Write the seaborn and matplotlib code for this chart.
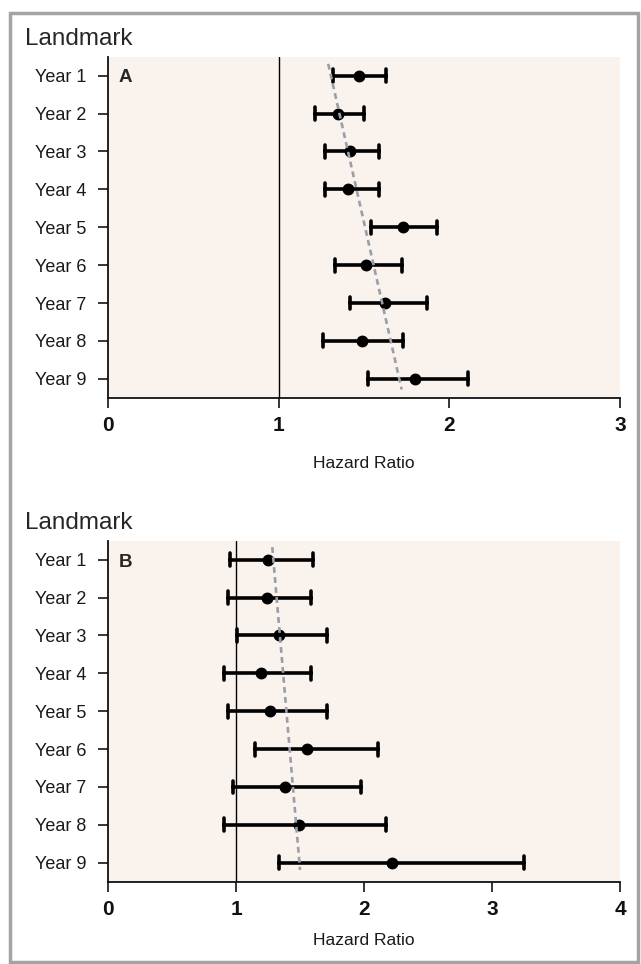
import pandas as pd
import numpy as np
import matplotlib
matplotlib.use("Agg")
import matplotlib.pyplot as plt
from matplotlib.patches import Rectangle
import seaborn as sns

sns.set_style("ticks")
plt.rcParams['font.family'] = ['Liberation Sans', 'DejaVu Sans']

# Data
years = ["Year 1", "Year 2", "Year 3", "Year 4", "Year 5", "Year 6", "Year 7", "Year 8", "Year 9"]

hr_a = [1.47, 1.35, 1.42, 1.405, 1.73, 1.51, 1.62, 1.49, 1.80]
lo_a = [1.32, 1.21, 1.27, 1.27, 1.54, 1.33, 1.42, 1.26, 1.52]
hi_a = [1.63, 1.50, 1.585, 1.585, 1.93, 1.72, 1.87, 1.73, 2.11]

hr_b = [1.25, 1.245, 1.334, 1.197, 1.264, 1.551, 1.382, 1.491, 2.215]
lo_b = [0.95, 0.935, 1.006, 0.907, 0.935, 1.149, 0.974, 0.907, 1.334]
hi_b = [1.60, 1.587, 1.708, 1.587, 1.708, 2.11, 1.976, 2.168, 3.247]

# trend lines (row position, hazard ratio) at both ends
trend_rows_a = [-0.31, 8.28]
trend_hr_a = [1.29, 1.72]
trend_rows_b = [-0.33, 8.19]
trend_hr_b = [1.283, 1.50]

xmax_a = 3
xmax_b = 4


def long_form(hr, lo, hi):
    # three rows per year: median = estimate, 0-100 percentile = CI
    rows = []
    for y, h, l, u in zip(years, hr, lo, hi):
        for v in (l, h, u):
            rows.append({"year": y, "hr": v})
    return pd.DataFrame(rows)


def panel(ax, hr, lo, hi, trend_rows, trend_hr, xmax, letter, labelpad):
    df = long_form(hr, lo, hi)
    ax.set_facecolor("#f9f2ed")
    ax.axvline(1, color="black", lw=1.0, zorder=1)
    sns.pointplot(data=df, x="hr", y="year", order=years, estimator="median",
                  errorbar=("pi", 100), capsize=0.34, color="black",
                  linestyle="none", markers="o", markersize=6.5,
                  err_kws={"linewidth": 2.6}, ax=ax, zorder=3)
    ax.plot(trend_hr, trend_rows, color="#9a9ea8", lw=1.9,
            linestyle=(0, (2.2, 1.6)), zorder=5)
    ax.set_xlim(0, xmax)
    ax.set_ylim(8.5, -0.5)
    ax.set_xticks(range(xmax + 1))
    ax.set_xticklabels([str(i) for i in range(xmax + 1)], fontweight="bold", fontsize=15)
    ax.tick_params(axis="x", length=7.5, width=1.3, pad=6, labelcolor="#111111")
    ax.tick_params(axis="y", length=7.5, width=1.3, pad=8, labelsize=13, labelcolor="#1a1a1a")
    for s in ("top", "right"):
        ax.spines[s].set_visible(False)
    for s in ("left", "bottom"):
        ax.spines[s].set_linewidth(1.3)
        ax.spines[s].set_color("#111111")
    ax.set_ylabel("")
    ax.set_xlabel("Hazard Ratio", fontsize=12.5, labelpad=labelpad, color="#1a1a1a")
    ax.text(0.021, 0.9375, letter, transform=ax.transAxes, fontsize=13.5,
            fontweight="bold", ha="left", va="center")
    ax.text(-0.162, 1.052, "Landmark", transform=ax.transAxes, fontsize=17.5,
            ha="left", va="center")


fig = plt.figure(figsize=(6.41, 9.64), dpi=100)
ax_a = fig.add_axes([0.1685, 0.5874, 0.799, 0.3538])
ax_b = fig.add_axes([0.1685, 0.0854, 0.799, 0.3537])

panel(ax_a, hr_a, lo_a, hi_a, trend_rows_a, trend_hr_a, xmax_a, "A", 15)
panel(ax_b, hr_b, lo_b, hi_b, trend_rows_b, trend_hr_b, xmax_b, "B", 10)

# grey frame round the figure
fig.patches.append(Rectangle((10 / 641, 2 / 964), 628 / 641, 949 / 964,
                             transform=fig.transFigure, fill=False,
                             edgecolor="#a3a3a3", lw=2.5))

fig.savefig("out.png", dpi=100)
